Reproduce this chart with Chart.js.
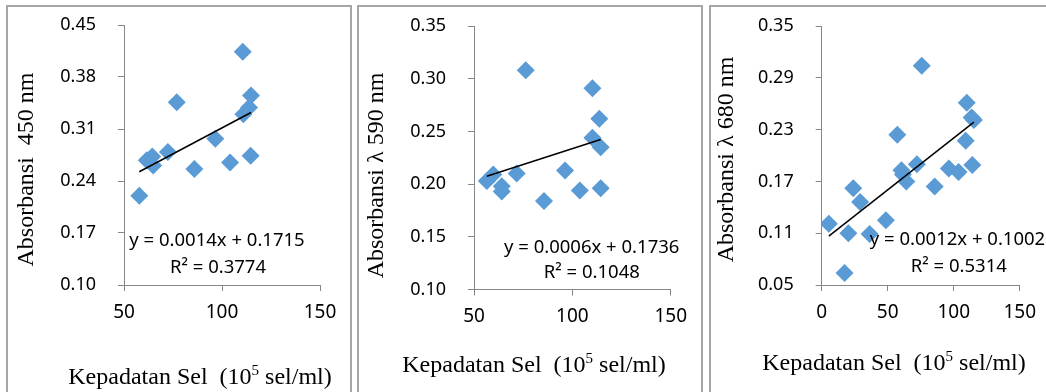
<!DOCTYPE html>
<html>
<head>
<meta charset="utf-8">
<script src="https://cdn.jsdelivr.net/npm/chart.js@4.4.1/dist/chart.umd.min.js"></script>
<style>
    html, body { margin: 0; padding: 0; background: #fff; }
    #page { position: relative; width: 1046px; height: 392px; overflow: hidden; }
    .frame { position: absolute; top: 5px; height: 420px; border: 2px solid #a6a6a6; box-sizing: border-box; }
    canvas { position: absolute; top: 7px; }
</style>
</head>
<body>
<div id="page">
    <div class="frame" style="left:6px;width:346px"></div>
    <div class="frame" style="left:357px;width:346px"></div>
    <div class="frame" style="left:709px;width:400px"></div>
    <canvas id="chart450" width="344" height="385" style="left:8px"></canvas>
    <canvas id="chart590" width="343" height="385" style="left:360px"></canvas>
    <canvas id="chart680" width="334" height="385" style="left:712px"></canvas>
</div>
<script>
// --- Data ---
const xTicksA = [50, 100, 150];
const xTicksB = [0, 50, 100, 150];
const yTicks450 = [0.10, 0.17, 0.24, 0.31, 0.38, 0.45];
const yTicks590 = [0.10, 0.15, 0.20, 0.25, 0.30, 0.35];
const yTicks680 = [0.05, 0.11, 0.17, 0.23, 0.29, 0.35];

const density450 = [57.8, 61.6, 64.4, 64.9, 72.4, 76.9, 85.9, 96.6, 104.1, 110.6, 110.9, 113.8, 114.6, 114.8];
const abs450     = [0.220, 0.268, 0.273, 0.261, 0.279, 0.346, 0.256, 0.297, 0.265, 0.414, 0.330, 0.339, 0.274, 0.355];

const density590 = [56.5, 59.8, 64.1, 64.1, 71.7, 76.3, 85.6, 96.3, 103.8, 110.2, 110.2, 113.7, 114.4, 114.4];
const abs590     = [0.203, 0.209, 0.198, 0.193, 0.210, 0.308, 0.184, 0.213, 0.194, 0.291, 0.244, 0.262, 0.235, 0.196];

const density680 = [5.4, 17.3, 20.2, 23.9, 29.1, 36.3, 48.6, 57.3, 60.4, 61.5, 64.1, 72.1, 75.8, 85.6, 96.3, 103.7, 109.1, 109.9, 113.6, 114.1, 115.3];
const abs680     = [0.121, 0.064, 0.110, 0.162, 0.146, 0.109, 0.125, 0.224, 0.183, 0.178, 0.170, 0.190, 0.304, 0.164, 0.185, 0.181, 0.217, 0.261, 0.244, 0.189, 0.241];

const trendSlope = [0.0014, 0.0006, 0.0012];
const trendIntercept = [0.1715, 0.1736, 0.1002];
const trendR2 = ['0.3774', '0.1048', '0.5314'];
const yTitles = ['Absorbansi  450 nm', 'Absorbansi \u03bb 590 nm', 'Absorbansi \u03bb 680 nm'];

const AXIS_GRAY = '#868686';
const DOT_BLUE = '#5B9BD5';

// --- Plugin: axis titles (serif, with superscript) and trend equation ---
const panelText = {
    id: 'panelText',
    afterDraw(chart, args, opts) {
        const ctx = chart.ctx;
        ctx.save();
        ctx.fillStyle = '#000';

        // rotated y title
        ctx.font = '24px "Liberation Serif"';
        ctx.textAlign = 'center';
        ctx.textBaseline = 'alphabetic';
        ctx.save();
        ctx.translate(opts.yTitle[0], opts.yTitle[1]);
        ctx.rotate(-Math.PI / 2);
        ctx.fillText(opts.yText, 0, 0);
        ctx.restore();

        // x title: "Kepadatan Sel  (10^5 sel/ml)"
        const main = 'Kepadatan Sel  (10', sup = '5', rest = ' sel/ml)';
        ctx.textAlign = 'left';
        ctx.font = '24px "Liberation Serif"';
        const wMain = ctx.measureText(main).width;
        const wRest = ctx.measureText(rest).width;
        ctx.font = '15px "Liberation Serif"';
        const wSup = ctx.measureText(sup).width;
        let x = opts.xTitle[0] - (wMain + wSup + wRest) / 2;
        const base = opts.xTitle[1];
        ctx.font = '24px "Liberation Serif"';
        ctx.fillText(main, x, base);
        x += wMain;
        ctx.font = '15px "Liberation Serif"';
        ctx.fillText(sup, x, base - 9);
        x += wSup;
        ctx.font = '24px "Liberation Serif"';
        ctx.fillText(rest, x, base);

        // trend equation
        ctx.font = '18.5px "Noto Sans"';
        ctx.textAlign = 'center';
        ctx.fillText(opts.eqText, opts.eq[0], opts.eq[1]);
        ctx.fillText(opts.r2Text, opts.r2[0], opts.r2[1]);
        ctx.restore();
    }
};

function makePanel(canvasId, idx, xs, ys, xTicks, yTicks, area, textPos) {
    const canvas = document.getElementById(canvasId);
    const W = canvas.width, H = canvas.height;
    const points = xs.map((x, i) => ({ x: x, y: ys[i] }));

    // trend line across the data range, from the equation shown
    const xMin = Math.min(...xs), xMax = Math.max(...xs);
    const trend = [xMin, xMax].map(x => ({ x: x, y: trendSlope[idx] * x + trendIntercept[idx] }));

    new Chart(canvas, {
        type: 'scatter',
        data: {
            datasets: [
                {
                    type: 'line',
                    data: trend,
                    borderColor: '#000',
                    borderWidth: 1.5,
                    pointRadius: 0,
                    fill: false
                },
                {
                    data: points,
                    pointStyle: 'rectRot',
                    pointRadius: 9,
                    backgroundColor: DOT_BLUE,
                    borderColor: DOT_BLUE,
                    borderWidth: 0
                }
            ]
        },
        options: {
            responsive: false,
            animation: false,
            events: [],
            layout: { padding: { left: 0, top: area.top, right: W - area.right, bottom: 0 } },
            plugins: {
                legend: { display: false },
                tooltip: { enabled: false },
                panelText: {
                    yText: yTitles[idx],
                    eqText: `y = ${trendSlope[idx].toFixed(4)}x + ${trendIntercept[idx].toFixed(4)}`,
                    r2Text: `R\u00b2 = ${trendR2[idx]}`,
                    yTitle: textPos.yTitle,
                    xTitle: textPos.xTitle,
                    eq: textPos.eq,
                    r2: textPos.r2
                }
            },
            scales: {
                x: {
                    type: 'linear',
                    min: xTicks[0],
                    max: xTicks[xTicks.length - 1],
                    afterBuildTicks: s => { s.ticks = xTicks.map(v => ({ value: v })); },
                    afterFit: s => { s.height = H - area.bottom; },
                    ticks: { font: { family: '"Noto Sans"', size: 19 }, color: '#000', padding: 10, autoSkip: false, maxRotation: 0, callback: v => String(v) },
                    grid: { drawOnChartArea: false, drawTicks: true, tickLength: 6, color: AXIS_GRAY },
                    border: { color: AXIS_GRAY, width: 1 }
                },
                y: {
                    type: 'linear',
                    min: yTicks[0],
                    max: yTicks[yTicks.length - 1],
                    afterBuildTicks: s => { s.ticks = yTicks.map(v => ({ value: v })); },
                    // fixed axis width; drop the label padding that would push the plot down
                    afterFit: s => { s.width = area.left; s.paddingTop = 0; s.paddingBottom = 0; },
                    ticks: { font: { family: '"Noto Sans"', size: 18 }, color: '#000', padding: 22, autoSkip: false, callback: v => v.toFixed(2) },
                    grid: { drawOnChartArea: false, drawTicks: true, tickLength: 6, color: AXIS_GRAY },
                    border: { color: AXIS_GRAY, width: 1 }
                }
            }
        },
        plugins: [panelText]
    });
}

document.addEventListener('DOMContentLoaded', function() {
    makePanel('chart450', 0, density450, abs450, xTicksA, yTicks450,
        { left: 116, right: 312, top: 18, bottom: 278 },
        { yTitle: [25, 162.5], xTitle: [192, 377], eq: [209, 239], r2: [210, 266] });

    makePanel('chart590', 1, density590, abs590, xTicksA, yTicks590,
        { left: 114, right: 310.7, top: 19, bottom: 282.5 },
        { yTitle: [23, 168.5], xTitle: [174, 365], eq: [231.7, 246.3], r2: [231.8, 271.3] });

    makePanel('chart680', 2, density680, abs680, xTicksB, yTicks680,
        { left: 109.7, right: 311.3, top: 19, bottom: 278 },
        { yTitle: [21, 152.5], xTitle: [182, 363], eq: [245.5, 238], r2: [246.8, 264.7] });
});
</script>
</body>
</html>
